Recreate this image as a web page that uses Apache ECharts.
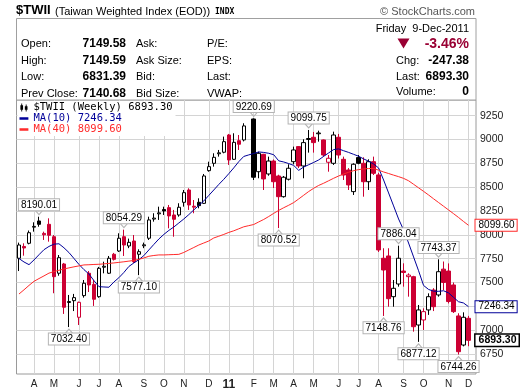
<!DOCTYPE html>
<html><head><meta charset="utf-8">
<script src="https://cdn.jsdelivr.net/npm/echarts@6/dist/echarts.min.js"></script>
<style>html,body{margin:0;padding:0;background:#fff}#c{width:520px;height:391px}</style>
</head><body><div id="c"></div>
<script>
// ---- categories (weekly bars, dated by Monday) ----
const weeks = ['2010-03-15','2010-03-22','2010-03-29','2010-04-05','2010-04-12','2010-04-19','2010-04-26','2010-05-03','2010-05-10','2010-05-17','2010-05-24','2010-05-31','2010-06-07','2010-06-14','2010-06-21','2010-06-28','2010-07-05','2010-07-12','2010-07-19','2010-07-26','2010-08-02','2010-08-09','2010-08-16','2010-08-23','2010-08-30','2010-09-06','2010-09-13','2010-09-20','2010-09-27','2010-10-04','2010-10-11','2010-10-18','2010-10-25','2010-11-01','2010-11-08','2010-11-15','2010-11-22','2010-11-29','2010-12-06','2010-12-13','2010-12-20','2010-12-27','2011-01-03','2011-01-10','2011-01-17','2011-01-24','2011-01-31','2011-02-07','2011-02-14','2011-02-21','2011-02-28','2011-03-07','2011-03-14','2011-03-21','2011-03-28','2011-04-04','2011-04-11','2011-04-18','2011-04-25','2011-05-02','2011-05-09','2011-05-16','2011-05-23','2011-05-30','2011-06-06','2011-06-13','2011-06-20','2011-06-27','2011-07-04','2011-07-11','2011-07-18','2011-07-25','2011-08-01','2011-08-08','2011-08-15','2011-08-22','2011-08-29','2011-09-05','2011-09-12','2011-09-19','2011-09-26','2011-10-03','2011-10-10','2011-10-17','2011-10-24','2011-10-31','2011-11-07','2011-11-14','2011-11-21','2011-11-28','2011-12-05','2011-12-12'];

// ---- OHLC (null = no trading that week) ----
const opens = [7754,7878,7911,8080,8145,8015,8110,7980,7597,7694,
 7290,7309,7135,7362,7597,7480,7351,7660,7597,7796,
 7830,7980,7883,7935,7796,7885,7964,8165,8220,8265,
 8285,8208,8208,8341,8470,8300,8341,8330,8673,8750,
 8850,8866,9047,8792,8987,8995,null,9215,8662,8844,
 8638,8774,8617,8400,8583,8767,8925,8722,9000,9023,
 9060,8995,8761,8750,9023,8792,8680,8453,8810,8750,
 8557,8767,8628,7754,7778,7351,7484,7620,7561,7561,
 7054,7107,7212,7421,7369,7640,7620,7474,7149,6844,
 7124];
const closes = [7893,7862,8022,8088,8110,8000,7995,7561,7760,7240,
 7300,7341,7292,7492,7474,7324,7649,7670,7754,7743,
 7964,7893,7921,7718,7823,7895,8156,8175,8230,8250,
 8198,8163,8289,8442,8313,8290,8306,8617,8715,8813,
 8860,8977,8785,8970,8950,9142,null,8604,8855,8586,
 8774,8557,8400,8604,8698,8890,8722,8967,9010,8967,
 9068,8837,8803,9047,8837,8627,8523,8740,8750,8557,
 8767,8645,7841,7631,7330,7439,7754,7605,7578,7036,
 7212,7194,7351,7246,7613,7500,7300,7194,6774,7135,
 6893.30];
const lows = [7620,7781,7900,8033,8085,7946,7928,7387,7571,7170,
 7032.40,7200,7054,7341,7400,7254,7340,7596,7590,7730,
 7820,7778,7860,7705,7577.10,7860,7946,8138,8156,8208,
 8068,7980,8190,8295,8261,8226,8278,8323,8662,8715,
 8820,8855,8733,8785,8890,8980,null,8575,8593,8470,
 8620,8491,8070.52,8390,8570,8740,8700,8593,8862,8862,
 8977,8820,8662,8733,8800,8575,8470,8418,8740,8400,
 8470,8627,7820,7148.76,7246,7246,7456,7456,7351,6984,
 6877.12,7002,7160,7200,7351,7420,7280,7180,6744.26,6830,
 6831.39];
const highs = [7918,7911,8045,8131,8190.01,8033,8173,7998,7788,7705,
 7369,7380,7299,7526,7620,7526,7663,7718,7778,7810,
 8016,8054.29,7960,7998,7848,7918,8190,8226,8295,8295,
 8313,8261,8331,8470,8488,8365,8383,8638,8767,8855,
 8890,9030,9058,9065,9047,9170,null,9220.69,8872,8850,
 8820,8790,8630,8617,8740,8925,8930,9002,9099.75,9079,
 9092,9000,8837,9082,9058,8820,8700,8750,8837,8813,
 8792,8820,8650,7859,7859,7526,7886.04,7701,7596,7570,
 7264,7229,7386,7440,7743.37,7720,7700,7500,7177,7187,
 7149.59];

// ---- moving averages ----
const ma10 = [7751,7715,7687,7736,7791,7844,7878,7902,7906,7864,
 7814,7752,7690,7635,7589,7520,7456,7453,7450,7505,
 7550,7605,7668,7705,7739,7782,7841,7899,7956,8004,
 8046,8082,8124,8166,8212,8261,8308,8355,8413,8470,
 8528,8582,8641,8702,8767,8822,8838,8853,8869,8864,
 8855,8840,8776,8764,8747,8728,8676,8711,8735,8759,
 8785,8823,8859,8894,8901,8882,8864,8844,8824,8796,
 8772,8743,8701,8575,8439,8303,8166,8051,7914,7768,
 7623,7469,7427,7409,7407,7413,7391,7344,7298,7285,
 7246.34];
const ma40 = [7379,7423,7469,7512,7541,7569,7598,7614,7628,7642,
 7653,7664,7674,7684,7686,7689,7691,7695,7700,7705,
 7711,7717,7724,7731,7743,7757,7775,7783,7789,7789,
 7791,7793,7795,7815,7841,7867,7893,7914,7935,7967,
 7985,8004,8025,8042,8063,8084,8096,8108,8135,8161,
 8192,8225,8256,8284,8310,8338,8376,8415,8454,8488,
 8518,8541,8567,8593,8617,8638,8656,8673,8684,8691,
 8695,8696,8678,8659,8643,8626,8610,8592,8567,8530,
 8493,8456,8418,8378,8339,8300,8261,8222,8182,8140,
 8099.60];

// ---- axis ticks & annotations ----
const yTicks = [6750,7000,7250,7500,7750,8000,8250,8500,8750,9000,9250];
const peakWeeks = ['2010-04-12','2010-08-09','2011-02-07','2011-04-25','2011-08-29','2011-10-24'];
const troughWeeks = ['2010-05-24','2010-08-30','2011-03-14','2011-08-08','2011-09-26','2011-11-21'];

// ---- quote header ----
const quoteLeftLabels = ['Open:','High:','Low:','Prev Close:'];
const quoteLeftValues = ['7149.58','7149.59','6831.39','7140.68'];
const quoteMidLabels = ['Ask:','Ask Size:','Bid:','Bid Size:'];
const quoteRightLabels = ['P/E:','EPS:','Last:','VWAP:'];
const quoteDate = 'Friday  9-Dec-2011';
const quotePct = '-3.46%';
const quoteStats = [['Chg:','-247.38'],['Last:','6893.30'],['Volume:','0']];

const RED = '#cc0033';
const BLUE = '#000099';
const MARED = '#ff2a2a';
const GRID = '#d4d4d4';
const FONT = '"Liberation Sans", Arial, sans-serif';
const fmt = v => Number(v).toFixed(2);
const nBars = opens.length;

function candleStyle(i) {
  const prev = i > 0 ? closes[i - 1] : null;
  const red = prev != null && closes[i] < prev;
  const col = red ? RED : '#000';
  const fill = closes[i] > opens[i] ? '#fff' : col;
  return {color: fill, color0: fill, borderColor: col, borderColor0: col, borderWidth: 1};
}
const candleData = opens.map((o, i) => o == null ? '-' :
  {value: [o, closes[i], lows[i], highs[i]], itemStyle: candleStyle(i)});

const monthOf = d => Number(d.slice(5, 7));
const isMonthStart = i => i > 0 && monthOf(weeks[i]) !== monthOf(weeks[i - 1]);
const monthIdx = weeks.map((d, i) => i).filter(isMonthStart);
const monthLetter = d => {
  const m = monthOf(d);
  if (m === 1) return '{b|' + d.slice(2, 4) + '}';
  return 'JFMAMJJASOND'[m - 1];
};

const boxLabel = {
  show: true, color: '#000', fontSize: 10, fontFamily: FONT, lineHeight: 10,
  backgroundColor: '#fff', borderColor: '#b4b4b4', borderWidth: 1, padding: [1, 2, 0, 2]
};
const markData = [];
peakWeeks.forEach(d => {
  const i = weeks.indexOf(d);
  markData.push({coord: [d, highs[i]], value: highs[i],
    symbol: 'path://M0,0L5,5L10,0', symbolSize: [7, 4], symbolOffset: [0, -4],
    itemStyle: {color: 'rgba(0,0,0,0)', borderColor: '#b4b4b4', borderWidth: 1},
    label: Object.assign({}, boxLabel, {position: 'top', distance: 0, formatter: p => fmt(p.value)})});
});
troughWeeks.forEach(d => {
  const i = weeks.indexOf(d);
  markData.push({coord: [d, lows[i]], value: lows[i],
    symbol: 'path://M0,5L5,0L10,5', symbolSize: [7, 4], symbolOffset: [0, 4],
    itemStyle: {color: 'rgba(0,0,0,0)', borderColor: '#b4b4b4', borderWidth: 1},
    label: Object.assign({}, boxLabel, {position: 'bottom', distance: 0, formatter: p => fmt(p.value)})});
});
markData.push({coord: [weeks[nBars - 1], closes[nBars - 1]], value: closes[nBars - 1],
  symbol: 'circle', symbolSize: 0.1, itemStyle: {color: 'rgba(0,0,0,0)'},
  label: {show: true, position: 'right', distance: 7, formatter: p => fmt(p.value),
    color: '#000', fontWeight: 'bold', fontSize: 10.5, fontFamily: FONT, lineHeight: 10,
    backgroundColor: '#fff', borderColor: '#000', borderWidth: 1.5, padding: [1, 2, 0, 3]}});

const lastVal = {'$TWII (Weekly)': closes[nBars - 1], 'MA(10)': ma10[nBars - 1], 'MA(40)': ma40[nBars - 1]};

// header graphics
const g = [];
g.push({type: 'rect', shape: {x: 16.5, y: 18.5, width: 459.5, height: 81.5}, style: {fill: '#fff', stroke: '#a0a0a0', lineWidth: 1}, silent: true, z: 0});
const txt = (text, x, y, font, fill, align) => ({type: 'text', x: x, y: y, silent: true, z: 10,
  style: {text: text, font: font, fill: fill || '#000', textAlign: align || 'left', align: align || 'left', textVerticalAlign: 'middle', verticalAlign: 'middle'}});
g.push(txt('$TWII', 16, 10.5, 'bold 13px ' + FONT));
g.push(txt('(Taiwan Weighted Index (EOD))', 55, 11.5, '11px ' + FONT));
g.push(txt('INDX', 215, 12, 'bold 8px "DejaVu Sans Mono", monospace'));
g.push(txt('\u00A9 StockCharts.com', 475, 12, '11px ' + FONT, '#555', 'right'));
const rowY = [43.5, 60.5, 77, 93.5];
rowY.forEach((y, k) => {
  g.push(txt(quoteLeftLabels[k], 21, y, '11px ' + FONT));
  g.push(txt(quoteLeftValues[k], 126, y, 'bold 12px ' + FONT, '#000', 'right'));
  g.push(txt(quoteMidLabels[k], 136, y, '11px ' + FONT));
  g.push(txt(quoteRightLabels[k], 207, y, '11px ' + FONT));
});
g.push(txt(quoteDate, 469, 28.5, '11px ' + FONT, '#000', 'right'));
g.push({type: 'polygon', shape: {points: [[397.5, 38.5], [409.5, 38.5], [403.5, 48.5]]}, style: {fill: '#990033'}, silent: true, z: 10});
g.push(txt(quotePct, 469, 44, 'bold 14px ' + FONT, '#990033', 'right'));
quoteStats.forEach((s, k) => {
  const y = [60.5, 76.5, 92][k];
  g.push(txt(s[0], 396, y, '11px ' + FONT));
  g.push(txt(s[1], 469, y, 'bold 12px ' + FONT, '#000', 'right'));
});

const chart = echarts.init(document.getElementById('c'), null, {renderer: 'canvas'});
chart.setOption({
  animation: false,
  backgroundColor: '#fff',
  grid: {left: 16.5, right: 44, top: 100, bottom: 17, show: true, borderColor: '#9a9a9a', borderWidth: 1, backgroundColor: 'rgba(0,0,0,0)'},
  legend: {
    left: 17.5, top: 101, orient: 'vertical', itemGap: 0, itemWidth: 9, itemHeight: 8,
    padding: [1, 3, 1, 2], backgroundColor: '#fff',
    textStyle: {fontFamily: '"DejaVu Sans Mono", monospace', fontSize: 10.5, lineHeight: 11},
    formatter: name => name + ' ' + fmt(lastVal[name]),
    selectedMode: false,
    data: [
      {name: '$TWII (Weekly)', icon: 'path://M1,0h1v2h1v5h-1v2h-1v-2h-1v-5h1z M6,1h1v2h1v4h-1v2h-1v-2h-1v-4h1z', itemStyle: {color: '#000', borderWidth: 0}, textStyle: {color: '#000'}},
      {name: 'MA(10)', icon: 'path://M0,0h0.01v0.01h-0.01z M0,3h10v3h-10z M0,8.99h0.01v0.01h-0.01z', itemStyle: {color: BLUE}, textStyle: {color: BLUE}},
      {name: 'MA(40)', icon: 'path://M0,0h0.01v0.01h-0.01z M0,3h10v3h-10z M0,8.99h0.01v0.01h-0.01z', itemStyle: {color: MARED}, textStyle: {color: MARED}}
    ]
  },
  xAxis: [{
    type: 'category', data: weeks, boundaryGap: true,
    axisLine: {show: false}, axisTick: {show: false}, splitLine: {show: false},
    axisLabel: {interval: (i) => isMonthStart(i), formatter: (v) => monthLetter(v), margin: 5,
      fontSize: 10, fontFamily: FONT, color: '#222', rich: {b: {fontWeight: 'bold', fontSize: 12, fontFamily: FONT, color: '#222'}}}
  }, {
    type: 'value', min: -0.5, max: weeks.length - 0.5, position: 'bottom',
    axisLine: {show: false}, axisLabel: {show: false},
    axisTick: {show: false, customValues: monthIdx},
    splitLine: {show: true, lineStyle: {color: GRID, width: 1}}
  }],
  yAxis: {
    type: 'value', position: 'right', min: 6540, max: 9414,
    axisLine: {show: false}, axisTick: {show: false, customValues: yTicks},
    axisLabel: {customValues: yTicks, formatter: v => String(v), color: '#222', fontSize: 10.5, fontFamily: FONT, margin: 4},
    splitLine: {lineStyle: {color: GRID, width: 1}}
  },
  series: [{
    name: '$TWII (Weekly)', type: 'candlestick', xAxisIndex: 0, data: candleData, barWidth: 4, z: 3,
    markPoint: {silent: true, animation: false, data: markData}
  }, {
    name: 'MA(10)', type: 'line', xAxisIndex: 0, data: ma10, symbol: 'none', z: 4,
    lineStyle: {color: BLUE, width: 1}, itemStyle: {color: BLUE},
    endLabel: {show: true, formatter: p => fmt(p.value), distance: 7, color: '#000', fontSize: 10, fontFamily: FONT, lineHeight: 10,
      backgroundColor: '#fff', borderColor: BLUE, borderWidth: 1, padding: [1, 2, 0, 3]}
  }, {
    name: 'MA(40)', type: 'line', xAxisIndex: 0, data: ma40, symbol: 'none', z: 4,
    lineStyle: {color: MARED, width: 1}, itemStyle: {color: MARED},
    endLabel: {show: true, formatter: p => fmt(p.value), distance: 7, color: '#000', fontSize: 10, fontFamily: FONT, lineHeight: 10,
      backgroundColor: '#fff', borderColor: MARED, borderWidth: 1, padding: [1, 2, 0, 3]}
  }],
  graphic: g
});
</script></body></html>
